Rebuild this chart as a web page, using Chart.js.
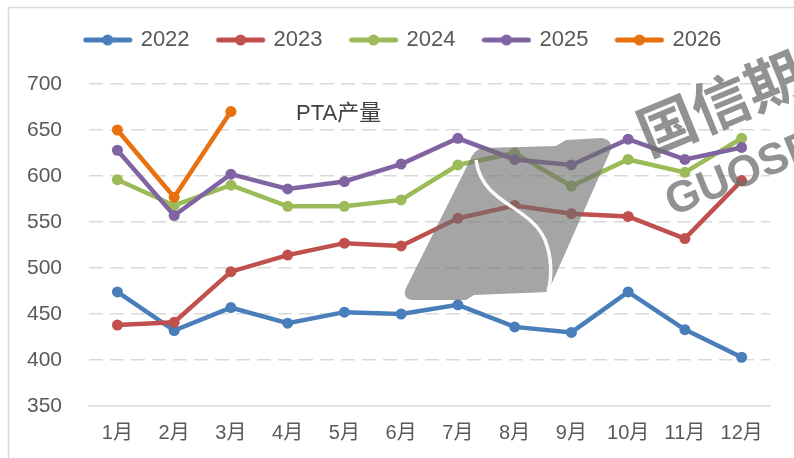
<!DOCTYPE html>
<html>
<head>
<meta charset="utf-8">
<script src="https://cdn.jsdelivr.net/npm/chart.js@4"></script>
<style>
  html, body { margin: 0; padding: 0; background: #fff; }
  #wrap { width: 794px; height: 458px; }
</style>
</head>
<body>
<div id="wrap"><canvas id="ptaChart" width="794" height="458"></canvas></div>
<script>
// PTA产量 月度数据 (万吨)
const months = ['1月', '2月', '3月', '4月', '5月', '6月', '7月', '8月', '9月', '10月', '11月', '12月'];
const y2022 = [474, 432, 457, 440, 452, 450, 460, 436, 430, 474, 433, 403];
const y2023 = [438, 441, 496, 514, 527, 524, 554, 568, 559, 556, 532, 595];
const y2024 = [596, 568, 590, 567, 567, 574, 612, 625, 589, 618, 604, 641];
const y2025 = [628, 557, 602, 586, 594, 613, 641, 618, 612, 640, 618, 631];
const y2026 = [650, 577, 670];
const yTicks = [350, 400, 450, 500, 550, 600, 650, 700];

const FONT = "'Liberation Sans', Arial, 'Noto Sans CJK SC', sans-serif";

// 图例小图标：线 + 圆点
function legendIcon(color) {
    const c = document.createElement('canvas');
    c.width = 50; c.height = 14;
    const g = c.getContext('2d');
    g.strokeStyle = color; g.lineWidth = 5; g.lineCap = 'round';
    g.beginPath(); g.moveTo(3, 7); g.lineTo(47, 7); g.stroke();
    g.fillStyle = color;
    g.beginPath(); g.arc(25, 7, 5.5, 0, Math.PI * 2); g.fill();
    return c;
}

function serie(label, data, color, order) {
    return {
        label, data, order,
        borderColor: color, backgroundColor: color,
        borderWidth: 4.5, pointRadius: 5.5, pointHoverRadius: 5.5,
        pointBorderWidth: 0, pointBackgroundColor: color,
        tension: 0, icon: legendIcon(color)
    };
}

// 边框
const frame = {
    id: 'frame',
    beforeDraw(chart) {
        const ctx = chart.ctx;
        ctx.save();
        ctx.fillStyle = '#fff';
        ctx.fillRect(0, 0, chart.width, chart.height);
        ctx.strokeStyle = '#d9d9d9';
        ctx.lineWidth = 1.5;
        ctx.beginPath();
        ctx.moveTo(8.5, chart.height); ctx.lineTo(8.5, 7.5); ctx.lineTo(chart.width, 7.5);
        ctx.stroke();
        ctx.restore();
    }
};

// 图内标题 + 水印
const overlay = {
    id: 'overlay',
    afterDatasetsDraw(chart) {
        const ctx = chart.ctx;
        const a = chart.chartArea;
        ctx.save();
        ctx.fillStyle = '#404040';
        ctx.font = '22px ' + FONT;
        ctx.textBaseline = 'middle';
        ctx.fillText('PTA产量', a.left + 207, a.top + 30);

        // logo
        ctx.fillStyle = 'rgba(110,110,110,0.62)';
        ctx.beginPath();
        ctx.moveTo(482, 148); ctx.lineTo(556, 146); ctx.lineTo(566, 140);
        ctx.lineTo(602, 138); ctx.quadraticCurveTo(614, 140, 610, 152);
        ctx.lineTo(548, 292); ctx.lineTo(474, 295); ctx.lineTo(466, 300);
        ctx.lineTo(412, 300); ctx.quadraticCurveTo(402, 298, 406, 288);
        ctx.lineTo(470, 160); ctx.quadraticCurveTo(474, 150, 482, 148);
        ctx.fill();
        ctx.strokeStyle = 'rgba(255,255,255,0.95)';
        ctx.lineWidth = 3.5;
        ctx.beginPath();
        ctx.moveTo(476, 160);
        ctx.bezierCurveTo(482, 205, 530, 205, 545, 240);
        ctx.bezierCurveTo(552, 258, 552, 276, 548, 292);
        ctx.stroke();

        ctx.fillStyle = 'rgba(110,110,110,0.75)';
        ctx.translate(640, 136);
        ctx.rotate(-0.39);
        ctx.font = 'bold 58px ' + "'Noto Sans CJK SC', sans-serif";
        ctx.textBaseline = 'middle';
        ctx.fillText('国信期货', 0, 0);
        ctx.restore();

        ctx.save();
        ctx.fillStyle = 'rgba(110,110,110,0.75)';
        ctx.translate(668, 205);
        ctx.rotate(-0.39);
        ctx.font = 'bold 44px ' + FONT;
        ctx.textBaseline = 'middle';
        ctx.fillText('GUOSEN', 0, 0);
        ctx.restore();
    }
};

// 图例与图表之间留白
const legendGap = {
    id: 'legendGap',
    beforeInit(chart) {
        const fit = chart.legend.fit;
        chart.legend.fit = function () {
            fit.bind(chart.legend)();
            this.height += 23;
        };
    }
};

new Chart(document.getElementById('ptaChart'), {
    type: 'line',
    data: {
        labels: months,
        datasets: [
            serie('2022', y2022, '#4a7ebb', 4),
            serie('2023', y2023, '#c0504d', 3),
            serie('2024', y2024, '#9bbb59', 2),
            serie('2025', y2025, '#8064a2', 1),
            serie('2026', y2026, '#e8700e', 0)
        ]
    },
    options: {
        responsive: false,
        animation: false,
        layout: { padding: { left: 0, right: -13, top: 0, bottom: -2 } },
        plugins: {
            tooltip: { enabled: false },
            legend: {
                position: 'top',
                labels: {
                    usePointStyle: true,
                    pointStyleWidth: 44,
                    padding: 29,
                    color: '#595959',
                    font: { size: 22, family: FONT },
                    sort: (a, b) => a.datasetIndex - b.datasetIndex,
                    generateLabels(chart) {
                        const items = Chart.defaults.plugins.legend.labels.generateLabels(chart);
                        items.forEach(it => { it.pointStyle = chart.data.datasets[it.datasetIndex].icon; });
                        return items;
                    }
                }
            }
        },
        scales: {
            x: {
                offset: true,
                grid: { display: false, drawTicks: false, offset: true },
                border: { display: true, color: '#d9d9d9', width: 1.5 },
                ticks: { color: '#595959', font: { size: 20, family: FONT }, padding: 15, maxRotation: 0 }
            },
            y: {
                min: 350, max: 700,
                afterBuildTicks: s => { s.ticks = yTicks.map(v => ({ value: v })); },
                grid: {
                    drawTicks: false,
                    color: c => c.tick && c.tick.value === 350 ? 'rgba(0,0,0,0)' : '#d9d9d9',
                    lineWidth: 1.5,
                    borderDash: [14, 7]
                },
                border: { display: false, dash: [14, 7] },
                ticks: { color: '#595959', font: { size: 21, family: FONT }, padding: 27 }
            },
            y2: {
                position: 'right',
                display: true,
                grid: { display: false, drawTicks: false },
                border: { display: false },
                ticks: { display: false },
                afterFit: s => { s.width = 37; }
            }
        }
    },
    plugins: [frame, overlay, legendGap]
});
</script>
</body>
</html>
